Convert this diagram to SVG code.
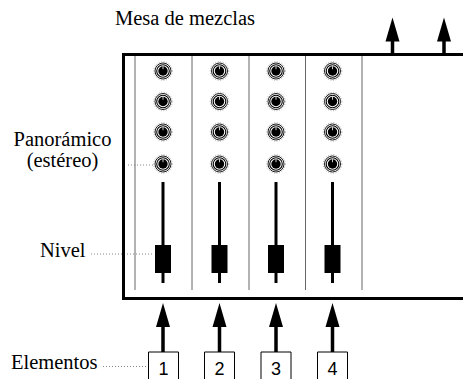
<svg xmlns="http://www.w3.org/2000/svg" xmlns:xlink="http://www.w3.org/1999/xlink" width="463" height="379" viewBox="0 0 463 379">
<style>
.lbl{font-family:'Liberation Serif','Times New Roman',Times,serif;font-size:20.5px;fill:#000}
.num{font-family:'Liberation Sans',Arial,sans-serif;font-size:18px;fill:#000;text-anchor:middle}
.div{stroke:#666;stroke-width:1;fill:none}
.lead{stroke:#888;stroke-width:1;stroke-dasharray:1 2;fill:none}
.border{stroke:#000;stroke-width:3;fill:none}
.shaft{stroke:#000;stroke-width:3.5;fill:none}
.fline{stroke:#000;stroke-width:3;fill:none}
.box{stroke:#000;stroke-width:1;fill:#fff}
</style>
<defs>
<g id="knob">
<circle r="9.3" fill="none" stroke="#999" stroke-width="0.8" stroke-dasharray="1 1.6"/>
<circle r="8" fill="#fff" stroke="#000" stroke-width="0.9"/>
<circle r="6.3" fill="none" stroke="#000" stroke-width="1.1"/>
<circle r="4.7" fill="#000"/>
<line x1="0" y1="-1.8" x2="0" y2="-4.8" stroke="#fff" stroke-width="0.8"/>
</g>
<g id="fader">
<line class="fline" x1="0" y1="182" x2="0" y2="283"/>
<rect x="-8" y="245" width="16" height="28" fill="#000"/>
</g>
<path id="head" d="M0 0 L7 24 L-7 24 Z" fill="#000"/>
</defs>

<g id="leaders">
<line class="lead" x1="128" y1="165" x2="155" y2="165"/>
<line class="lead" x1="91" y1="254" x2="154" y2="254"/>
<line class="lead" x1="103" y1="366.5" x2="146" y2="366.5"/>
</g>

<g id="mixer">
<path class="border" d="M463 54.5 H123.5 V298.5 H463"/>
<line class="div" x1="135" y1="56" x2="135" y2="290"/>
<line class="div" x1="192" y1="56" x2="192" y2="290"/>
<line class="div" x1="249" y1="56" x2="249" y2="290"/>
<line class="div" x1="305.5" y1="56" x2="305.5" y2="290"/>
<line class="div" x1="362" y1="56" x2="362" y2="290"/>
</g>

<g id="channel1" transform="translate(163 0)">
<use xlink:href="#knob" y="71"/><use xlink:href="#knob" y="101.5"/><use xlink:href="#knob" y="132"/><use xlink:href="#knob" y="164"/>
<use xlink:href="#fader"/>
</g>
<g id="channel2" transform="translate(219.5 0)">
<use xlink:href="#knob" y="71"/><use xlink:href="#knob" y="101.5"/><use xlink:href="#knob" y="132"/><use xlink:href="#knob" y="164"/>
<use xlink:href="#fader"/>
</g>
<g id="channel3" transform="translate(276 0)">
<use xlink:href="#knob" y="71"/><use xlink:href="#knob" y="101.5"/><use xlink:href="#knob" y="132"/><use xlink:href="#knob" y="164"/>
<use xlink:href="#fader"/>
</g>
<g id="channel4" transform="translate(332.5 0)">
<use xlink:href="#knob" y="71"/><use xlink:href="#knob" y="101.5"/><use xlink:href="#knob" y="132"/><use xlink:href="#knob" y="164"/>
<use xlink:href="#fader"/>
</g>

<g id="connectors">
<line class="shaft" x1="163" y1="352" x2="163" y2="322"/><use xlink:href="#head" x="163" y="303"/>
<line class="shaft" x1="219.5" y1="352" x2="219.5" y2="322"/><use xlink:href="#head" x="219.5" y="303"/>
<line class="shaft" x1="276" y1="352" x2="276" y2="322"/><use xlink:href="#head" x="276" y="303"/>
<line class="shaft" x1="332.5" y1="352" x2="332.5" y2="322"/><use xlink:href="#head" x="332.5" y="303"/>
<line class="shaft" x1="392.5" y1="54" x2="392.5" y2="37"/><use xlink:href="#head" x="392.5" y="17.5"/>
<line class="shaft" x1="444" y1="54" x2="444" y2="37"/><use xlink:href="#head" x="444" y="17.5"/>
</g>

<g id="input1"><path class="box" d="M148.5 380 V352 H178.5 V380"/><text class="num" x="163.5" y="375">1</text></g>
<g id="input2"><path class="box" d="M204.5 380 V352 H234.5 V380"/><text class="num" x="219.5" y="375">2</text></g>
<g id="input3"><path class="box" d="M261 380 V352 H291 V380"/><text class="num" x="276" y="375">3</text></g>
<g id="input4"><path class="box" d="M317.5 380 V352 H347.5 V380"/><text class="num" x="332.5" y="375">4</text></g>

<g id="labels" font-family="Liberation Serif, Times New Roman, serif">
<text class="lbl" x="115" y="25">Mesa de mezclas</text>
<text class="lbl" x="62.5" y="145.5" text-anchor="middle">Panorámico</text>
<text class="lbl" x="62.5" y="166.5" text-anchor="middle">(estéreo)</text>
<text class="lbl" x="40" y="257">Nivel</text>
<text class="lbl" x="11" y="369">Elementos</text>
</g>
</svg>
